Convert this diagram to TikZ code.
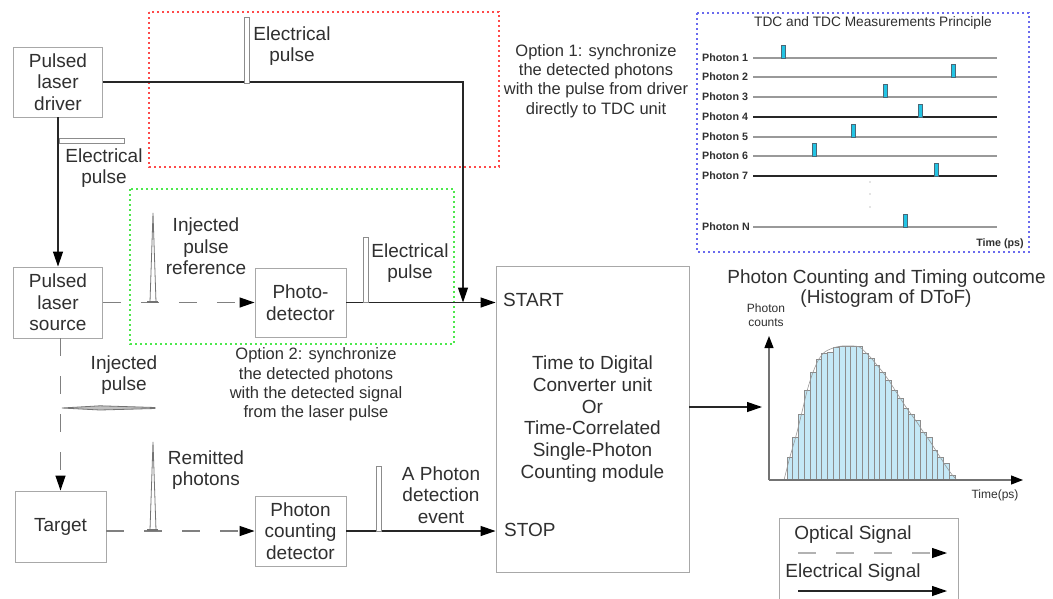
\documentclass[tikz,border=0pt]{standalone}
\usepackage{fontspec}
\setmainfont{Liberation Sans}
\usetikzlibrary{arrows.meta}
\definecolor{boxgray}{HTML}{A8A8A8}
\definecolor{txt}{HTML}{303030}
\definecolor{reddot}{HTML}{FF4A4A}
\definecolor{greendot}{HTML}{4CE84C}
\definecolor{bluedot}{HTML}{6A6AEE}
\definecolor{barfill}{HTML}{C4E8F6}
\definecolor{markfill}{HTML}{22C4E4}
\newcommand{\myfs}[2]{\fontsize{#1}{#2}\selectfont}
\begin{document}
\begin{tikzpicture}[x=1pt,y=-1pt,
  box/.style={draw=boxgray, line width=0.9pt, fill=white, text=txt, align=center, font=\myfs{19}{21.7}, inner sep=0pt},
  lbl/.style={text=txt, align=center, inner sep=0pt, font=\myfs{19}{21.7}},
  note/.style={text=txt, align=center, inner sep=0pt, font=\myfs{16.5}{19.3}},
  small/.style={text=txt, align=center, inner sep=0pt, font=\myfs{12}{14}},
  plbl/.style={text=txt, inner sep=0pt, font=\bfseries\myfs{10.7}{12}},
  elec/.style={draw=black!85, line width=1.2pt, -{Triangle[length=15pt,width=10pt,color=black]}},
  opt/.style={draw=black!50, line width=1.2pt, dash pattern=on 18pt off 20pt, -{Triangle[length=15pt,width=10pt,color=black]}},
  epulse/.style={draw=black!45, fill=white, line width=0.8pt},
  opulse/.style={draw=black!55, line width=0.8pt},
  optbox/.style={line width=1.6pt, dash pattern=on 2.4pt off 2.6pt},
  axis/.style={draw=black!55, line width=1.2pt, -{Triangle[length=12pt,width=9pt,color=black]}},
  bar/.style={draw=black!45, fill=barfill, line width=0.7pt},
  marker/.style={draw=black!60!cyan, fill=markfill, line width=0.6pt}
]
\useasboundingbox[fill=white] (0,0) rectangle (1053,598);

% option boxes
\draw[optbox, draw=reddot] (149,12) rectangle (499,167);
\draw[optbox, draw=greendot] (130,189) rectangle (454,344);
\draw[optbox, draw=bluedot] (697,13) rectangle (1029,252);

% main boxes
\node[box, minimum width=89pt, minimum height=70pt] (driver) at (58,82) {Pulsed\\laser\\driver};
\node[box, minimum width=89pt, minimum height=71pt] (source) at (58,302.5) {Pulsed\\laser\\source};
\node[box, minimum width=91pt, minimum height=71pt] (target) at (60.5,526.5) {Target};
\node[box, minimum width=91pt, minimum height=69pt] (pd) at (300.5,302.5) {Photo-\\detector};
\node[box, minimum width=91pt, minimum height=70pt] (pcd) at (300.5,531) {Photon\\counting\\detector};
\node[box, minimum width=193pt, minimum height=306pt] (tdc) at (592.5,419) {Time to Digital\\Converter unit\\Or\\Time-Correlated\\Single-Photon\\Counting module};
\node[lbl, anchor=west] (start) at (503,300) {START};
\node[lbl, anchor=west] (stop) at (504,530) {STOP};

% connectors
\coordinate (startin) at (463,302.5);
\draw[elec] (driver.east) -| (startin);
\draw[elec] (driver.south) -- (source.north);
\draw[opt] (source.east) -- (pd.west);
\draw[opt] (source.south -| target.north) -- (target.north);
\draw[opt] (target.east |- pcd.west) -- (pcd.west);
\draw[elec] (pd.east) -- (tdc.west |- pd.east);
\draw[elec] (pcd.east) -- (tdc.west |- pcd.east);
\coordinate (hin) at (762,407);
\draw[elec] (tdc.east |- hin) -- (hin);

% pulses
\draw[epulse] (244,17) rectangle (249,83);
\draw[epulse] (59,138) rectangle (124,143);
\draw[epulse] (363,237) rectangle (368,302);
\draw[epulse] (376,466) rectangle (381,531);
\draw[opulse] (150,302) -- (153,213) -- (156,302);
\draw[opulse, line width=1.1pt] (147,302) -- (158,302);
\draw[opulse] (150,530) -- (153,442) -- (156,530);
\draw[opulse, line width=1.1pt] (147,530) -- (158,530);
\draw[opulse, fill=black!25] (62,408) -- (100,405.8) -- (155,407.5) -- (155,408.5) -- (100,410) -- cycle;

% labels
\node[lbl] (l1) at (292,46) {Electrical\\pulse};
\node[lbl] (l2) at (104,168) {Electrical\\pulse};
\node[lbl] (l3) at (206,246.5) {Injected\\pulse\\reference};
\node[lbl] (l4) at (410,263) {Electrical\\pulse};
\node[lbl] (l5) at (124,375) {Injected\\pulse};
\node[lbl] (l6) at (206,470) {Remitted\\photons};
\node[lbl] (l7) at (441,495) {A Photon\\detection\\event};
\node[note] (o1) at (596,81) {Option 1: synchronize\\the detected photons\\with the pulse from driver\\directly to TDC unit};
\node[note] (o2) at (316,384.5) {Option 2: synchronize\\the detected photons\\with the detected signal\\from the laser pulse};

% TDC inset
\node[text=txt, inner sep=0pt, font=\myfs{13.7}{15}] (ititle) at (873,23) {TDC and TDC Measurements Principle};
\foreach \y/\m/\c [count=\i] in {58/783/black!40, 77/953/black!40, 97/885/black!40, 117/920/black!85, 137/853/black!40, 156/814/black!40, 176/936/black!85} {
  \node[plbl, anchor=west] (ph\i) at (702,\y) {Photon \i};
  \draw[\c, line width=1.3pt] (753,\y) -- (997,\y);
  \draw[marker] (\m-2,\y) rectangle (\m+2,\y-13);
}
\node[plbl, anchor=west] (phN) at (702,227) {Photon N};
\draw[black!40, line width=1.3pt] (753,227) -- (997,227);
\draw[marker] (903,227) rectangle (907,214);
\foreach \y in {182,194,207} \fill[black!45] (870,\y) circle (0.7pt);
\node[plbl] (itime) at (1000,244) {Time (ps)};

% histogram
\node[lbl] (ht1) at (886.5,279) {Photon Counting and Timing outcome};
\node[lbl] (ht2) at (886,299) {(Histogram of DToF)};
\node[small] (hyl) at (766,315) {Photon\\counts};
\node[small] (hxl) at (995,495) {Time(ps)};
\foreach \h [count=\i] in {23,43,66,90,108,121,127,128,133,134,134,134,134,127,122,115,108,100,90,82,72,66,60,48,43,30,23,17,5} {
  \draw[bar] ({787+(\i-1)*5.8},480) rectangle ({787+\i*5.8},{480-\h});
}
\draw[black!40, line width=0.6pt] plot[smooth] coordinates {(784,480) (789.9,457) (795.7,437) (801.5,414) (807.3,390) (813.1,372) (818.9,359) (824.7,352) (830.5,349) (836.3,347) (842.1,346) (847.9,346) (853.7,346) (859.5,347) (865.3,352) (871.1,358) (876.9,365) (882.7,372) (888.5,380) (894.3,389) (900.1,398) (905.9,407) (911.7,415) (917.5,423) (923.3,432) (929.1,440) (934.9,449) (940.7,458) (946.5,467) (952.3,475) (957,480)};
\coordinate (origin) at (769,480);
\coordinate (ytop) at (769,336);
\coordinate (xend) at (1023,480);
\draw[axis] (origin) -- (ytop);
\draw[axis] (origin) -- (xend);

% legend
\node[draw=boxgray, line width=0.9pt, minimum width=179pt, minimum height=95pt, anchor=north west, inner sep=0pt] (legend) at (779,518) {};
\node[lbl] (optl) at (853,535) {Optical Signal};
\node[lbl] (ell) at (853,573) {Electrical Signal};
\coordinate (oa) at (798,553);
\coordinate (ob) at (947,553);
\coordinate (ea) at (798,591);
\coordinate (eb) at (947,591);
\draw[opt, draw=black!30] (oa) -- (ob);
\draw[elec] (ea) -- (eb);
\end{tikzpicture}
\end{document}
